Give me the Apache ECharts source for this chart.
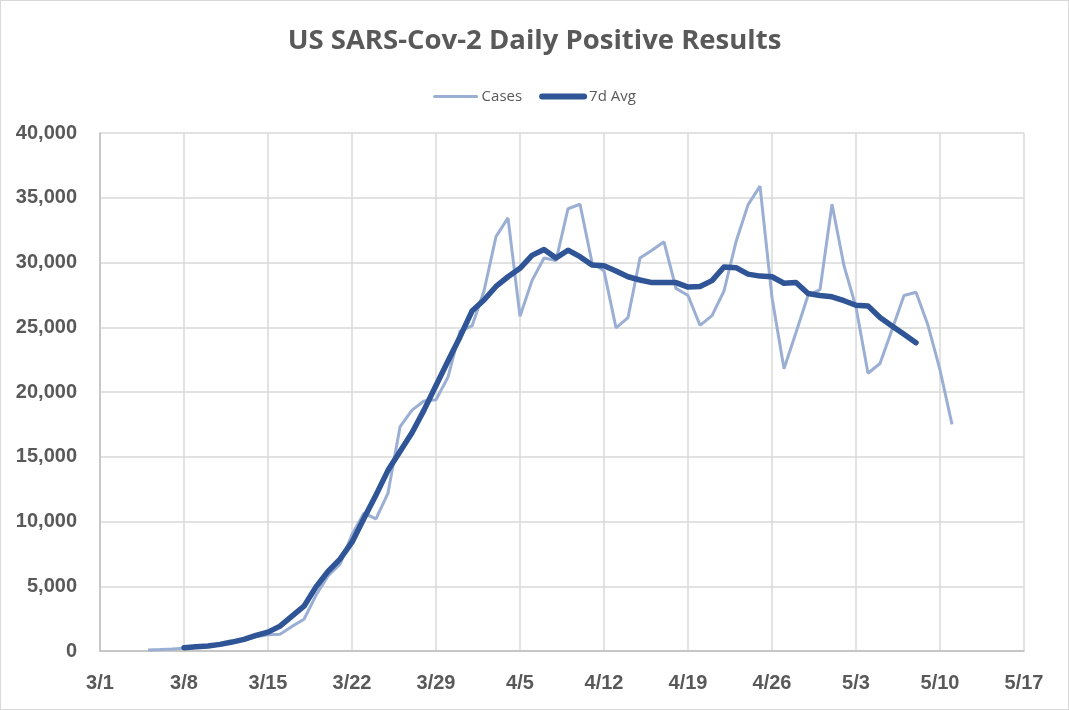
<!DOCTYPE html>
<html>
<head>
<meta charset="utf-8">
<script src="https://cdn.jsdelivr.net/npm/echarts@6/dist/echarts.min.js"></script>
<style>
  html, body { margin: 0; padding: 0; background: #fff; }
  #chart { width: 1069px; height: 710px; box-sizing: border-box; border: 1px solid #d9d9d9; }
</style>
</head>
<body>
<div id="chart"></div>
<script>
// day labels 3/1 .. 5/17 (one per day, year 2020)
const startDate = new Date(2020, 2, 1);
const dayCount = 78;
const days = [];
for (let i = 0; i < dayCount; i++) {
  const d = new Date(startDate.getTime() + i * 86400000);
  days.push((d.getMonth() + 1) + '/' + d.getDate());
}

// daily positive results, 3/5 .. 5/11
const casesStart = '3/5';
const cases = [
  80, 110, 150, 220, 280, 380, 500, 650, 850, 1100,
  1250, 1300, 1900, 2450, 4300, 5800, 6700, 9000, 10650, 10200,
  12200, 17300, 18600, 19300, 19400, 21150, 24700,
  25100, 27800, 32000, 33450, 25850, 28600, 30350, 30150, 34150, 34500,
  30000, 29350, 24950, 25750, 30350, 30950, 31600, 28000, 27450, 25150,
  25900, 27800, 31600, 34450, 35900, 27300, 21800, 24600, 27450, 27900,
  34500, 29750, 26550, 21450, 22200, 24800, 27450, 27700, 25150, 21700,
  17500
];

// 7 day average, 3/8 .. 5/8
const avgStart = '3/8';
const avg7 = [
  260, 320, 390, 510, 690, 900, 1200, 1460, 1920, 2690,
  3460, 4950, 6150, 7100, 8400, 10250, 12050, 13950, 15400, 16850,
  18600, 20500, 22400, 24250,
  26250, 27100, 28150, 28900, 29550, 30550, 31000, 30350, 30950, 30450,
  29800, 29750, 29350, 28900, 28650, 28450, 28450, 28450, 28100, 28150,
  28600, 29650, 29600, 29100, 28950, 28900, 28400, 28450, 27600, 27450,
  27350, 27050, 26700, 26650, 25750, 25100, 24450, 23800
];

const yTicks = [0, 5000, 10000, 15000, 20000, 25000, 30000, 35000, 40000];

// place a series on the full day axis
function onDays(values, first) {
  const out = new Array(dayCount).fill(null);
  const off = days.indexOf(first);
  values.forEach((v, i) => { out[off + i] = v; });
  return out;
}

const chart = echarts.init(document.getElementById('chart'));
const grey = '#595959';
const lightBlue = '#9aafd3';
const darkBlue = '#2f5597';
const tickFont = {
  fontFamily: '"Liberation Sans", Arial, sans-serif',
  fontWeight: 'bold',
  fontSize: 20,
  color: grey
};

chart.setOption({
  animation: false,
  title: {
    text: 'US SARS-Cov-2 Daily Positive Results',
    left: 'center',
    top: 21,
    textStyle: { fontFamily: 'Open Sans', fontWeight: 'bold', fontSize: 27.5, color: grey }
  },
  legend: {
    top: 83,
    left: 'center',
    itemWidth: 42,
    itemHeight: 10,
    itemGap: 17,
    itemStyle: { opacity: 0 },
    textStyle: { fontFamily: 'Open Sans', fontSize: 15, color: grey },
    data: [
      { name: 'Cases', lineStyle: { width: 3, cap: 'round' } },
      { name: '7d Avg', lineStyle: { width: 6, cap: 'round' } }
    ]
  },
  grid: { left: 99, right: 44, top: 132, bottom: 58 },
  xAxis: {
    type: 'category',
    data: days,
    boundaryGap: false,
    axisLine: { lineStyle: { color: '#bfbfbf', width: 1.5 } },
    axisTick: { show: false },
    axisLabel: Object.assign({ interval: 6, margin: 22 }, tickFont),
    splitLine: { show: true, interval: 6, lineStyle: { color: '#d9d9d9', width: 1.5 } }
  },
  yAxis: {
    type: 'value',
    min: yTicks[0],
    max: yTicks[yTicks.length - 1],
    interval: 5000,
    axisLine: { show: true, lineStyle: { color: '#bfbfbf', width: 1.5 } },
    axisTick: { show: false },
    axisLabel: Object.assign({
      margin: 23,
      formatter: v => v.toLocaleString('en-US')
    }, tickFont),
    splitLine: { lineStyle: { color: '#d9d9d9', width: 1.5 } }
  },
  series: [
    {
      name: 'Cases',
      type: 'line',
      data: onDays(cases, casesStart),
      symbol: 'none',
      lineStyle: { color: lightBlue, width: 3 },
      itemStyle: { color: lightBlue }
    },
    {
      name: '7d Avg',
      type: 'line',
      data: onDays(avg7, avgStart),
      symbol: 'none',
      lineStyle: { color: darkBlue, width: 5.5, cap: 'round', join: 'round' },
      itemStyle: { color: darkBlue }
    }
  ]
});
</script>
</body>
</html>
